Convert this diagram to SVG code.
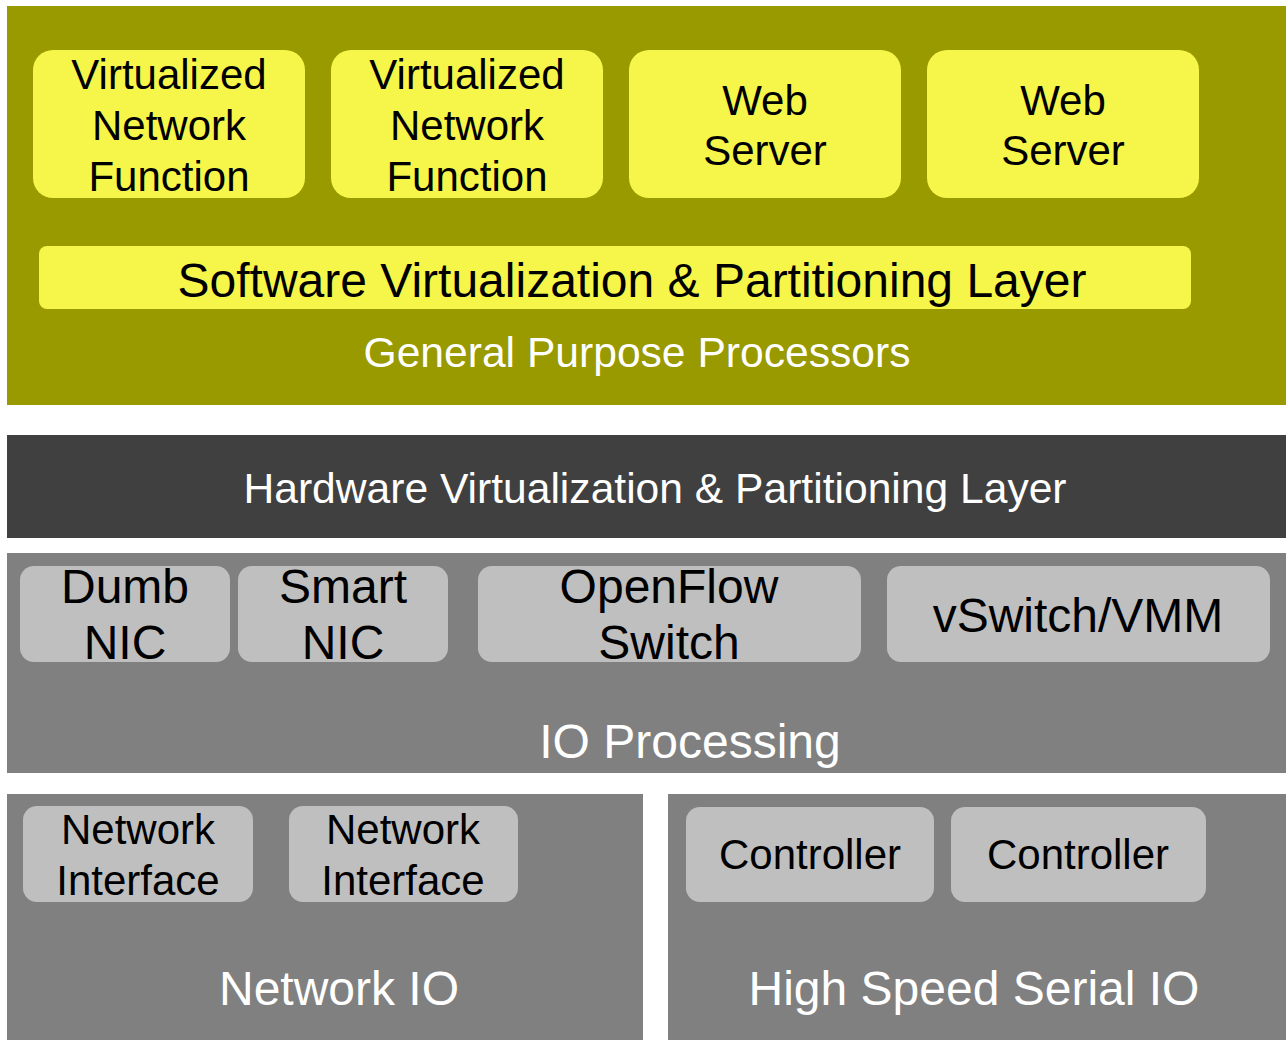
<svg xmlns="http://www.w3.org/2000/svg" width="1286" height="1040" viewBox="0 0 1286 1040">
  <style>
    text { font-family: "Liberation Sans", Arial, Helvetica, sans-serif; text-anchor: middle; }
    .dk { fill: #000000; }
    .wt { fill: #ffffff; }
    .s42 { font-size: 42px; }
    .s43 { font-size: 42.6px; }
    .s48 { font-size: 48px; }
    .olive { fill: #999900; }
    .yellow { fill: #f6f64a; }
    .charcoal { fill: #404040; }
    .gray { fill: #808080; }
    .light { fill: #bfbfbf; }
  </style>
  <rect width="1286" height="1040" fill="#ffffff"/>

  <!-- General purpose processors layer -->
  <g id="gpp">
    <rect class="olive" x="7" y="6" width="1279" height="399"/>
    <text class="wt s43" x="637" y="367">General Purpose Processors</text>
  </g>
  <g id="vnf1">
    <rect class="yellow" x="33" y="50" width="272" height="148" rx="20"/>
    <text class="dk s42" x="169" y="89">Virtualized</text>
    <text class="dk s42" x="169" y="140">Network</text>
    <text class="dk s42" x="169" y="191">Function</text>
  </g>
  <g id="vnf2">
    <rect class="yellow" x="331" y="50" width="272" height="148" rx="20"/>
    <text class="dk s42" x="467" y="89">Virtualized</text>
    <text class="dk s42" x="467" y="140">Network</text>
    <text class="dk s42" x="467" y="191">Function</text>
  </g>
  <g id="web1">
    <rect class="yellow" x="629" y="50" width="272" height="148" rx="20"/>
    <text class="dk s42" x="765" y="115">Web</text>
    <text class="dk s42" x="765" y="165">Server</text>
  </g>
  <g id="web2">
    <rect class="yellow" x="927" y="50" width="272" height="148" rx="20"/>
    <text class="dk s42" x="1063" y="115">Web</text>
    <text class="dk s42" x="1063" y="165">Server</text>
  </g>
  <g id="sw-layer">
    <rect class="yellow" x="39" y="246" width="1152" height="63" rx="8"/>
    <text class="dk s48" x="632" y="297">Software Virtualization &amp; Partitioning Layer</text>
  </g>

  <!-- Hardware virtualization layer -->
  <g id="hw-layer">
    <rect class="charcoal" x="7" y="435" width="1279" height="103"/>
    <text class="wt s43" x="655" y="503">Hardware Virtualization &amp; Partitioning Layer</text>
  </g>

  <!-- IO processing layer -->
  <g id="io-processing">
    <rect class="gray" x="7" y="553" width="1279" height="220"/>
    <text class="wt s48" x="690" y="758">IO Processing</text>
  </g>
  <g id="dumb-nic">
    <rect class="light" x="20" y="566" width="210" height="96" rx="14"/>
    <text class="dk s48" x="125" y="603">Dumb</text>
    <text class="dk s48" x="125" y="659">NIC</text>
  </g>
  <g id="smart-nic">
    <rect class="light" x="238" y="566" width="210" height="96" rx="14"/>
    <text class="dk s48" x="343" y="603">Smart</text>
    <text class="dk s48" x="343" y="659">NIC</text>
  </g>
  <g id="openflow-switch">
    <rect class="light" x="478" y="566" width="383" height="96" rx="14"/>
    <text class="dk s48" x="669" y="603">OpenFlow</text>
    <text class="dk s48" x="669" y="659">Switch</text>
  </g>
  <g id="vswitch">
    <rect class="light" x="887" y="566" width="383" height="96" rx="14"/>
    <text class="dk s48" x="1078" y="632">vSwitch/VMM</text>
  </g>

  <!-- Network IO -->
  <g id="network-io">
    <rect class="gray" x="7" y="794" width="636" height="246"/>
    <text class="wt s48" x="339" y="1005">Network IO</text>
  </g>
  <g id="net-if1">
    <rect class="light" x="23" y="806" width="230" height="96" rx="14"/>
    <text class="dk s42" x="138" y="844">Network</text>
    <text class="dk s42" x="138" y="895">Interface</text>
  </g>
  <g id="net-if2">
    <rect class="light" x="289" y="806" width="229" height="96" rx="14"/>
    <text class="dk s42" x="403" y="844">Network</text>
    <text class="dk s42" x="403" y="895">Interface</text>
  </g>

  <!-- High speed serial IO -->
  <g id="serial-io">
    <rect class="gray" x="668" y="794" width="618" height="246"/>
    <text class="wt s48" x="974" y="1005">High Speed Serial IO</text>
  </g>
  <g id="controller1">
    <rect class="light" x="686" y="807" width="248" height="95" rx="14"/>
    <text class="dk s42" x="810" y="869">Controller</text>
  </g>
  <g id="controller2">
    <rect class="light" x="951" y="807" width="255" height="95" rx="14"/>
    <text class="dk s42" x="1078" y="869">Controller</text>
  </g>

  <g id="connectors"/>
</svg>
